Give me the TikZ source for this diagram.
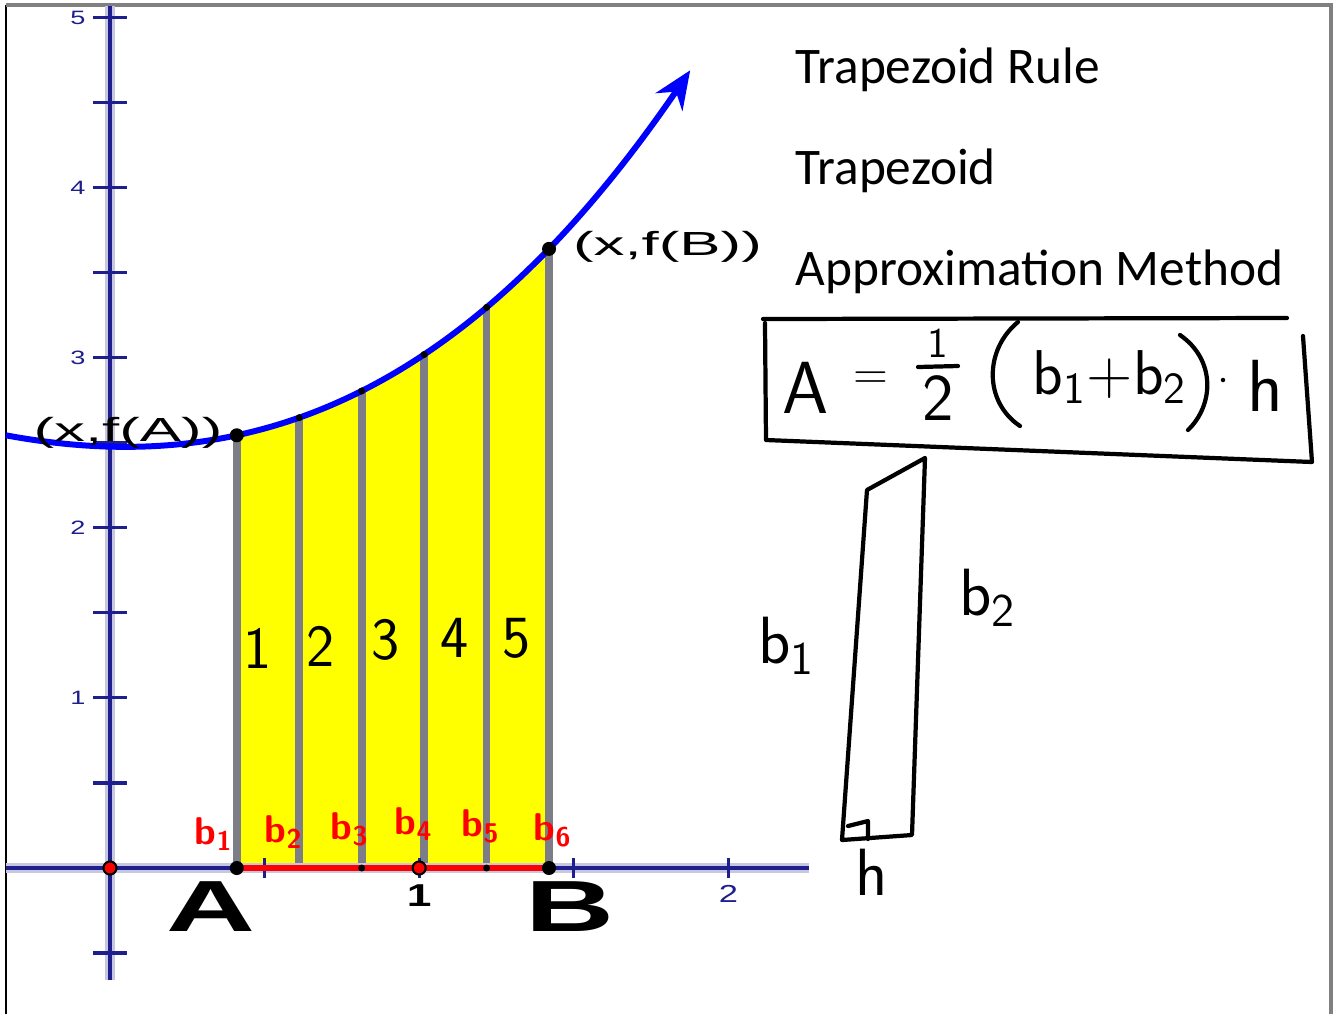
\documentclass[tikz,border=0pt]{standalone}
\usepackage{fontspec}
\setmainfont{Carlito}
\newfontfamily\geofont{Liberation Sans}
\usetikzlibrary{arrows.meta, positioning}

\definecolor{axisblue}{RGB}{30,30,140}
\definecolor{curveblue}{RGB}{0,0,255}
\definecolor{stripgray}{RGB}{125,125,135}
\definecolor{fillyellow}{RGB}{255,255,0}
\definecolor{inkred}{RGB}{255,0,0}

\begin{document}
\begin{tikzpicture}[x=0.01cm, y=-0.01cm,
    declare function={f(\t)=2.476+0.49*(\t-0.05)*(\t-0.05)+0.095*(\t-0.05)*(\t-0.05)*(\t-0.05);},
    every node/.style={inner sep=0pt},
    heading/.style={anchor=base west, font=\fontsize{14.6}{17}\selectfont},
    axishalo/.style={draw=axisblue!25, line width=2.6pt},
    axisline/.style={draw=axisblue, line width=0.9pt},
    ticklabel/.style={font=\geofont\fontsize{5.5}{6}\selectfont, text=axisblue, xscale=1.4},
    pointlabel/.style={font=\geofont\fontsize{9.5}{11}\selectfont, xscale=1.85},
    endlabel/.style={font=\geofont\bfseries\fontsize{20.6}{24}\selectfont, xscale=1.7},
    stripline/.style={draw=stripgray, line width=2.2pt},
    striplabel/.style={font=\sffamily\fontsize{17}{20}\selectfont},
    redlabel/.style={text=inkred, font=\sffamily\bfseries\fontsize{11}{13}\selectfont},
    handline/.style={draw=black, line width=1.2pt, line cap=round, line join=round},
    handlabel/.style={font=\sffamily\fontsize{19}{22}\selectfont},
    bigdot/.style={circle, fill=black, minimum size=0.14cm},
    smalldot/.style={circle, fill=black, minimum size=0.07cm},
    reddot/.style={circle, fill=inkred, draw=black, line width=0.6pt, minimum size=0.13cm}
]
    \useasboundingbox (0,0) rectangle (1335,1014);

    % Frame
    \draw[black, line width=0.6pt] (6,1014) -- (6,5);
    \draw[gray, line width=1.1pt] (6,5) -- (1331,5) -- (1331,1014);

    % Headings
    \node[heading] (rule) at (795,83) {Trapezoid Rule};
    \node[heading] (shape) at (795,184) {Trapezoid};
    \node[heading] (method) at (795,285) {Approximation Method};

    % Graph
    \begin{scope}[shift={(110,868)}, x=3.09cm, y=1.70cm]
        \fill[fillyellow] (0.41,0) -- plot[domain=0.41:1.42, samples=40] (\x,{f(\x)}) -- (1.42,0) -- cycle;

        \foreach \i in {0,...,5} {
            \pgfmathsetmacro\xs{0.41+0.202*\i}
            \coordinate (base\i) at (\xs,0);
            \coordinate (top\i) at (\xs,{f(\xs)});
            \draw[stripline] (base\i) -- (top\i);
        }

        % Axes
        \draw[axishalo] (-0.337,0) -- (2.26,0);
        \draw[axishalo] (0,-0.66) -- (0,5.07);
        \draw[axisline] (-0.337,0) -- (2.26,0);
        \draw[axisline] (0,-0.66) -- (0,5.07);
        \foreach \t in {-0.5,0.5,1,...,5}
            \draw[axisline] (-0.055,\t) -- (0.055,\t);
        \foreach \t in {0.5,1,1.5,2}
            \draw[axisline] (\t,-0.06) -- (\t,0.06);
        \foreach \t in {1,...,5}
            \node[ticklabel] (ylab\t) at (-0.104,\t) {\t};
        \node[ticklabel, text=black, font=\geofont\bfseries\fontsize{9}{10}\selectfont] (xlabone) at (1.0,-0.16) {1};
        \node[ticklabel, font=\geofont\fontsize{7}{8}\selectfont] (xlabtwo) at (2.0,-0.15) {2};

        \draw[inkred, line width=1.5pt] (base0) -- (base5);

        % Curve
        \draw[curveblue, line width=1.7pt, -{Stealth[length=0.38cm, width=0.32cm]}]
            plot[domain=-0.337:1.877, samples=90, smooth] (\x,{f(\x)});

        % Points
        \node[reddot] (origin) at (0,0) {};
        \node[reddot] (unit) at (1,0) {};
        \node[bigdot] (pa) at (base0) {};
        \node[bigdot] (pb) at (base5) {};
        \node[smalldot] (pthree) at (base2) {};
        \node[smalldot] (pfive) at (base4) {};
        \node[bigdot] (fa) at (top0) {};
        \node[bigdot] (fb) at (top5) {};
        \foreach \i in {1,...,4}
            \node[smalldot] (ftop\i) at (top\i) {};

        \node[pointlabel] (falabel) at (0.058,2.56) {(x,f(A))};
        \node[pointlabel] (fblabel) at (1.803,3.65) {(x,f(B))};
        \node[endlabel] (alabel) at (0.327,-0.225) {A};
        \node[endlabel] (blabel) at (1.488,-0.225) {B};
    \end{scope}

    % Strip numbers
    \node[striplabel] (sone) at (258,648) {1};
    \node[striplabel] (stwo) at (321,646) {2};
    \node[striplabel] (sthree) at (386,640) {3};
    \node[striplabel] (sfour) at (455,638) {4};
    \node[striplabel] (sfive) at (517,638) {5};

    % Red base labels
    \foreach \n/\px/\py in {1/214/834, 2/284/832, 3/350/829, 4/414/824, 5/481/826, 6/553/830}
        \node[redlabel] (red\n) at (\px,\py) {b\textsubscript{\n}};

    % Formula box
    \draw[handline] (763,319) -- (1287,318);
    \draw[handline] (765,323) -- (766,440) -- (1312,462) -- (1303,336);

    % Formula
    \node[handlabel, font=\sffamily\fontsize{21}{24}\selectfont] (forma) at (806,388) {A};
    \node[handlabel, font=\sffamily\fontsize{13}{15}\selectfont] (formeq) at (871,380) {=};
    \node[handlabel, font=\sffamily\fontsize{12}{14}\selectfont] (fracnum) at (938,343) {1};
    \draw[handline] (918,367) -- (958,366);
    \node[handlabel] (fracden) at (938,398) {2};
    \draw[handline] (1018,322) .. controls (984,350) and (984,402) .. (1020,426);
    \node[handlabel, font=\sffamily\fontsize{18}{21}\selectfont] (formsum) at (1110,377) {b\textsubscript{1}+b\textsubscript{2}};
    \draw[handline] (1180,335) .. controls (1216,360) and (1214,405) .. (1188,430);
    \node[circle, fill=black, minimum size=0.045cm] (formdot) at (1223,380) {};
    \node[handlabel, font=\sffamily\fontsize{21}{24}\selectfont] (formh) at (1265,386) {h};

    % Trapezoid sketch
    \draw[handline] (867,490) -- (925,458) -- (912,835) -- (842,840) -- cycle;
    \draw[handline] (848,826) -- (868,821) -- (868,839);
    \node[handlabel] (bonelabel) at (787,646) {b\textsubscript{1}};
    \node[handlabel] (btwolabel) at (988,598) {b\textsubscript{2}};
    \node[handlabel] (hlabel) at (872,872) {h};

\end{tikzpicture}
\end{document}
